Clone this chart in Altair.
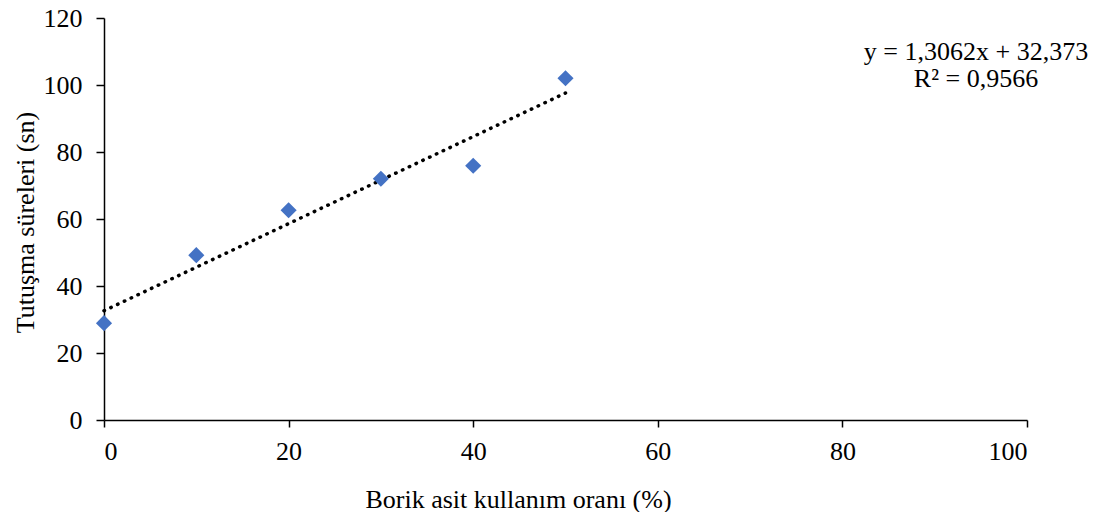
import altair as alt
import pandas as pd

borik = [0, 10, 20, 30, 40, 50]
sure = [28.9, 49.2, 62.6, 72.0, 75.9, 102.0]
equation_lines = ["y = 1,3062x + 32,373", "R² = 0,9566"]

df = pd.DataFrame({"x": borik, "y": sure})
font = "Liberation Serif"

xs = alt.Scale(domain=[0, 100], nice=False)
ys = alt.Scale(domain=[0, 120], nice=False)

base = alt.Chart(df)

trend = base.transform_regression("x", "y", extent=[0, 50]).mark_line(
    color="black", strokeDash=[0.5, 7], strokeWidth=3.5, strokeCap="round"
).encode(
    x=alt.X("x:Q", scale=xs),
    y=alt.Y("y:Q", scale=ys),
)

points = base.mark_point(
    shape="diamond", filled=True, color="#4472C4", size=260, opacity=1
).encode(
    x=alt.X("x:Q", scale=xs,
            axis=alt.Axis(values=[0, 20, 40, 60, 80, 100], title="Borik asit kullanım oranı (%)",
                          grid=False, tickSize=7, labelPadding=11,
                          titleX=414, titleY=79, titleAnchor="middle", titleBaseline="middle")),
    y=alt.Y("y:Q", scale=ys,
            axis=alt.Axis(values=[0, 20, 40, 60, 80, 100, 120], title="Tutuşma süreleri (sn)",
                          grid=False, tickSize=8, labelPadding=14,
                          titleX=-79, titleY=204, titleAnchor="middle", titleBaseline="middle")),
)

eq = alt.Chart(pd.DataFrame({"t": [equation_lines]})).mark_text(
    font=font, fontSize=26, align="center", baseline="top", lineHeight=27, color="black"
).encode(
    x=alt.value(872), y=alt.value(21), text="t"
)

chart = alt.layer(trend, points, eq).properties(
    width=923, height=402,
    autosize=alt.AutoSizeParams(type="none"),
    padding={"left": 96, "top": 10, "right": 68, "bottom": 92},
).configure_view(stroke=None).configure_axis(
    domainColor="black", domainWidth=1.5, tickColor="black", tickWidth=1.5,
    labelFont=font, labelFontSize=26, labelColor="black",
    titleFont=font, titleFontSize=26, titleFontWeight="normal", titleColor="black",
)

chart.save("out.html", embed_options={"renderer": "svg", "actions": False})
